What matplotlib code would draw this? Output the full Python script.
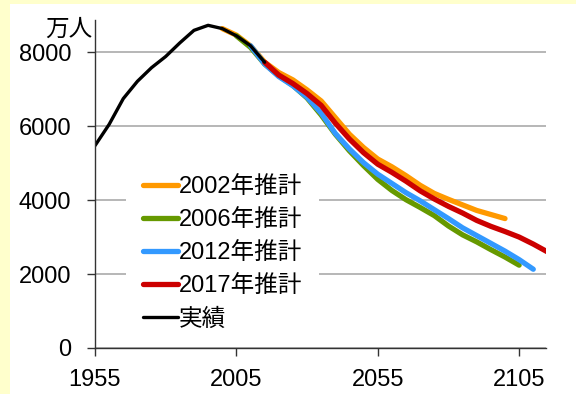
import matplotlib
matplotlib.use("Agg")
import matplotlib.pyplot as plt
from matplotlib.patches import Rectangle

# 実績 (actual)
actual_years = [1955, 1960, 1965, 1970, 1975, 1980, 1985, 1990, 1995, 2000, 2005, 2010, 2015]
actual_values = [5473, 6047, 6744, 7212, 7581, 7883, 8251, 8590, 8726, 8638, 8442, 8174, 7728]

# 2002年推計
p2002_years = [2000, 2005, 2010, 2015, 2020, 2025, 2030, 2035, 2040, 2045, 2050,
               2055, 2060, 2065, 2070, 2075, 2080, 2085, 2090, 2095, 2100]
p2002_values = [8638, 8460, 8170, 7730, 7450, 7250, 6980, 6680, 6230, 5780, 5420,
                5110, 4900, 4660, 4400, 4180, 4020, 3870, 3720, 3610, 3500]

# 2006年推計
p2006_years = [2005, 2010, 2015, 2020, 2025, 2030, 2035, 2040, 2045, 2050,
               2055, 2060, 2065, 2070, 2075, 2080, 2085, 2090, 2095, 2100, 2105]
p2006_values = [8442, 8130, 7680, 7360, 7100, 6760, 6300, 5780, 5330, 4930,
                4560, 4260, 4010, 3800, 3580, 3300, 3060, 2870, 2660, 2460, 2240]

# 2012年推計
p2012_years = [2010, 2015, 2020, 2025, 2030, 2035, 2040, 2045, 2050, 2055,
               2060, 2065, 2070, 2075, 2080, 2085, 2090, 2095, 2100, 2105, 2110]
p2012_values = [8174, 7680, 7340, 7090, 6780, 6350, 5800, 5380, 5010, 4700,
                4450, 4200, 3980, 3740, 3500, 3250, 3040, 2830, 2620, 2390, 2130]

# 2017年推計
p2017_years = [2015, 2020, 2025, 2030, 2035, 2040, 2045, 2050, 2055, 2060,
               2065, 2070, 2075, 2080, 2085, 2090, 2095, 2100, 2105, 2110, 2115]
p2017_values = [7728, 7380, 7150, 6880, 6560, 6080, 5650, 5280, 4970, 4750,
                4510, 4250, 4030, 3830, 3650, 3450, 3290, 3150, 3000, 2810, 2600]

y_ticks = [0, 2000, 4000, 6000, 8000]
x_ticks = [1955, 2005, 2055, 2105]

text_font = ["Liberation Sans Narrow", "Liberation Sans", "Noto Sans CJK JP", "DejaVu Sans"]
plt.rcParams["font.family"] = text_font

fig = plt.figure(figsize=(5.76, 3.94), dpi=100, facecolor="#FFFFCC")
fig.patches.append(Rectangle((10 / 576, 0), 1, 1 - 4 / 394, transform=fig.transFigure,
                             facecolor="white", edgecolor="none", zorder=-10))

ax = fig.add_axes([95 / 576, 1 - 348 / 394, 451 / 576, 328 / 394])
ax.set_facecolor("none")

projection_width = 3.8
ax.plot(p2002_years, p2002_values, color="#FF9900", lw=projection_width,
        solid_capstyle="round", solid_joinstyle="round", label="2002年推計")
ax.plot(p2006_years, p2006_values, color="#669900", lw=projection_width,
        solid_capstyle="round", solid_joinstyle="round", label="2006年推計")
ax.plot(p2012_years, p2012_values, color="#3399FF", lw=projection_width,
        solid_capstyle="round", solid_joinstyle="round", label="2012年推計")
ax.plot(p2017_years, p2017_values, color="#CC0000", lw=projection_width,
        solid_capstyle="round", solid_joinstyle="round", label="2017年推計")
ax.plot(actual_years, actual_values, color="black", lw=2.4,
        solid_capstyle="round", solid_joinstyle="round", label="実績")

ax.set_xlim(1955, 2114.5)
ax.set_ylim(0, 8870)
ax.set_xticks(x_ticks)
ax.set_yticks(y_ticks)
ax.tick_params(labelsize=17, length=6, width=1, color="#333333", direction="out")
ax.tick_params(axis="y", pad=11)
ax.tick_params(axis="x", pad=9)
ax.grid(axis="y", color="#AAAAAA", lw=1.2)
ax.set_axisbelow(True)
for side in ["top", "right"]:
    ax.spines[side].set_visible(False)
for side in ["left", "bottom"]:
    ax.spines[side].set_color("#333333")
    ax.spines[side].set_linewidth(1)

fig.text(92 / 576, 1 - 30 / 394, "万人", fontsize=17, ha="right", va="center")

legend = ax.legend(loc="upper left", bbox_to_anchor=(0.069, 0.575), fontsize=17,
                   handlelength=1.5, handletextpad=0.05, labelspacing=0.47,
                   borderpad=0.7, borderaxespad=0, frameon=True, fancybox=False)
legend.get_frame().set_facecolor("white")
legend.get_frame().set_edgecolor("none")
legend.get_frame().set_alpha(1)

fig.savefig("out.png", dpi=100, facecolor=fig.get_facecolor())
